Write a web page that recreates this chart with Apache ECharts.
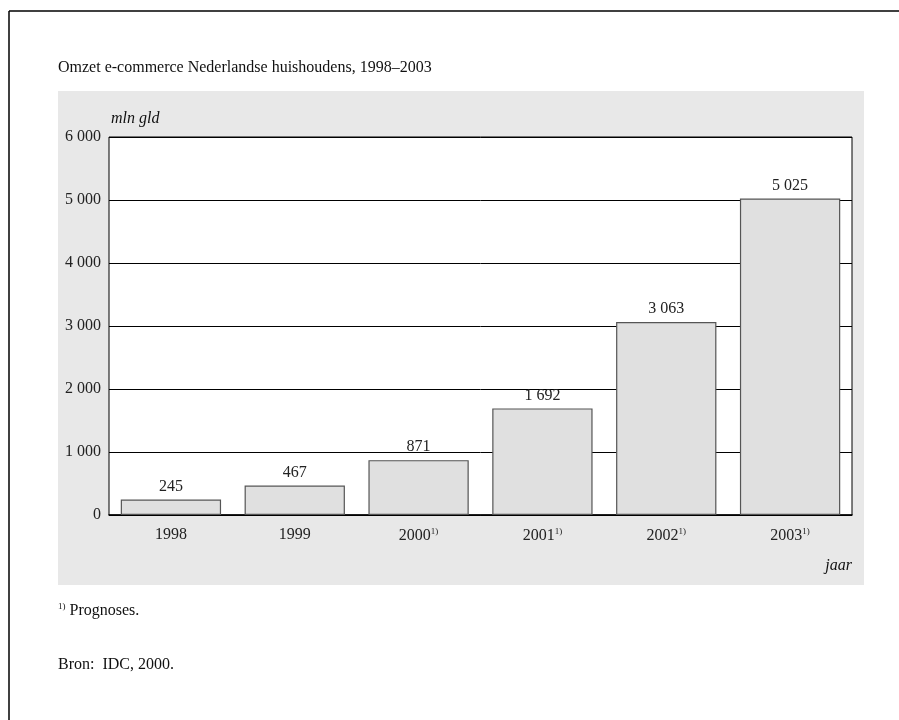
<!DOCTYPE html>
<html>
<head>
<meta charset="utf-8">
<script src="https://cdn.jsdelivr.net/npm/echarts@6/dist/echarts.min.js"></script>
<style>
html, body { margin: 0; padding: 0; background: #fff; }
#chart { width: 899px; height: 720px; }
</style>
</head>
<body>
<div id="chart"></div>
<script>
var years = ['1998', '1999', '2000', '2001', '2002', '2003'];
var prognosis = [false, false, true, true, true, true];
var omzet = [245, 467, 871, 1692, 3063, 5025];
var yTicks = { min: 0, max: 6000, step: 1000 };

var font = 'Liberation Serif, Times New Roman, serif';

// duizendtallen met spatie: 5025 -> "5 025"
function fmt(v) {
    return String(v).replace(/\B(?=(\d{3})+(?!\d))/g, ' ');
}

var chart = echarts.init(document.getElementById('chart'));

var option = {
    backgroundColor: '#fff',
    animation: false,
    textStyle: { fontFamily: font, color: '#222' },
    graphic: [
        // rand van de pagina
        { type: 'line', z: 0, shape: { x1: 9, y1: 11, x2: 899, y2: 11 }, style: { stroke: '#000', lineWidth: 1.5 } },
        { type: 'line', z: 0, shape: { x1: 9, y1: 11, x2: 9, y2: 720 }, style: { stroke: '#000', lineWidth: 1.5 } },
        // grijs paneel
        { type: 'rect', z: -10, shape: { x: 58, y: 91, width: 806, height: 494 }, style: { fill: '#e8e8e8' } },
        { type: 'text', left: 58, top: 60, style: { text: 'Omzet e-commerce Nederlandse huishoudens, 1998\u20132003', font: '16px ' + font, fill: '#111' } },
        { type: 'text', left: 111, top: 111, style: { text: 'mln gld', font: 'italic 16px ' + font, fill: '#111' } },
        { type: 'text', right: 47, top: 558, style: { text: 'jaar', font: 'italic 16px ' + font, fill: '#111' } },
        { type: 'text', left: 58, top: 602, style: {
            text: '{s|1)} Prognoses.',
            rich: { s: { fontSize: 9, verticalAlign: 'top', fontFamily: font, fill: '#111', padding: [0, 0, 8, 0] } },
            font: '16px ' + font, fill: '#111' } },
        { type: 'text', left: 58, top: 657, style: { text: 'Bron:  IDC, 2000.', font: '16px ' + font, fill: '#111' } }
    ],
    grid: {
        left: 109, top: 137, right: 47, bottom: 205,
        show: true, backgroundColor: '#fff', borderColor: '#000', borderWidth: 1
    },
    xAxis: {
        type: 'category',
        data: years,
        axisTick: { show: false },
        axisLine: { lineStyle: { color: '#000', width: 1.5 } },
        axisLabel: {
            margin: 12,
            color: '#222',
            fontSize: 16,
            fontFamily: font,
            formatter: function (v, i) {
                return prognosis[i] ? v + '{s|1)}' : v;
            },
            rich: { s: { fontSize: 9, verticalAlign: 'top', padding: [0, 0, 8, 0], fontFamily: font, color: '#222' } }
        }
    },
    yAxis: {
        type: 'value',
        min: yTicks.min,
        max: yTicks.max,
        interval: yTicks.step,
        axisLine: { show: false },
        axisTick: { show: false },
        splitLine: { lineStyle: { color: '#000', width: 1 } },
        axisLabel: {
            margin: 8,
            color: '#222',
            fontSize: 16,
            fontFamily: font,
            formatter: fmt
        }
    },
    series: [{
        type: 'bar',
        data: omzet,
        barCategoryGap: '19%',
        itemStyle: { color: '#e0e0e0', borderColor: '#555', borderWidth: 1.2 },
        label: {
            show: true,
            position: 'top',
            distance: 5,
            color: '#222',
            fontSize: 16,
            fontFamily: font,
            formatter: function (p) { return fmt(p.value); }
        },
        z: 3
    }]
};

chart.setOption(option);
</script>
</body>
</html>
